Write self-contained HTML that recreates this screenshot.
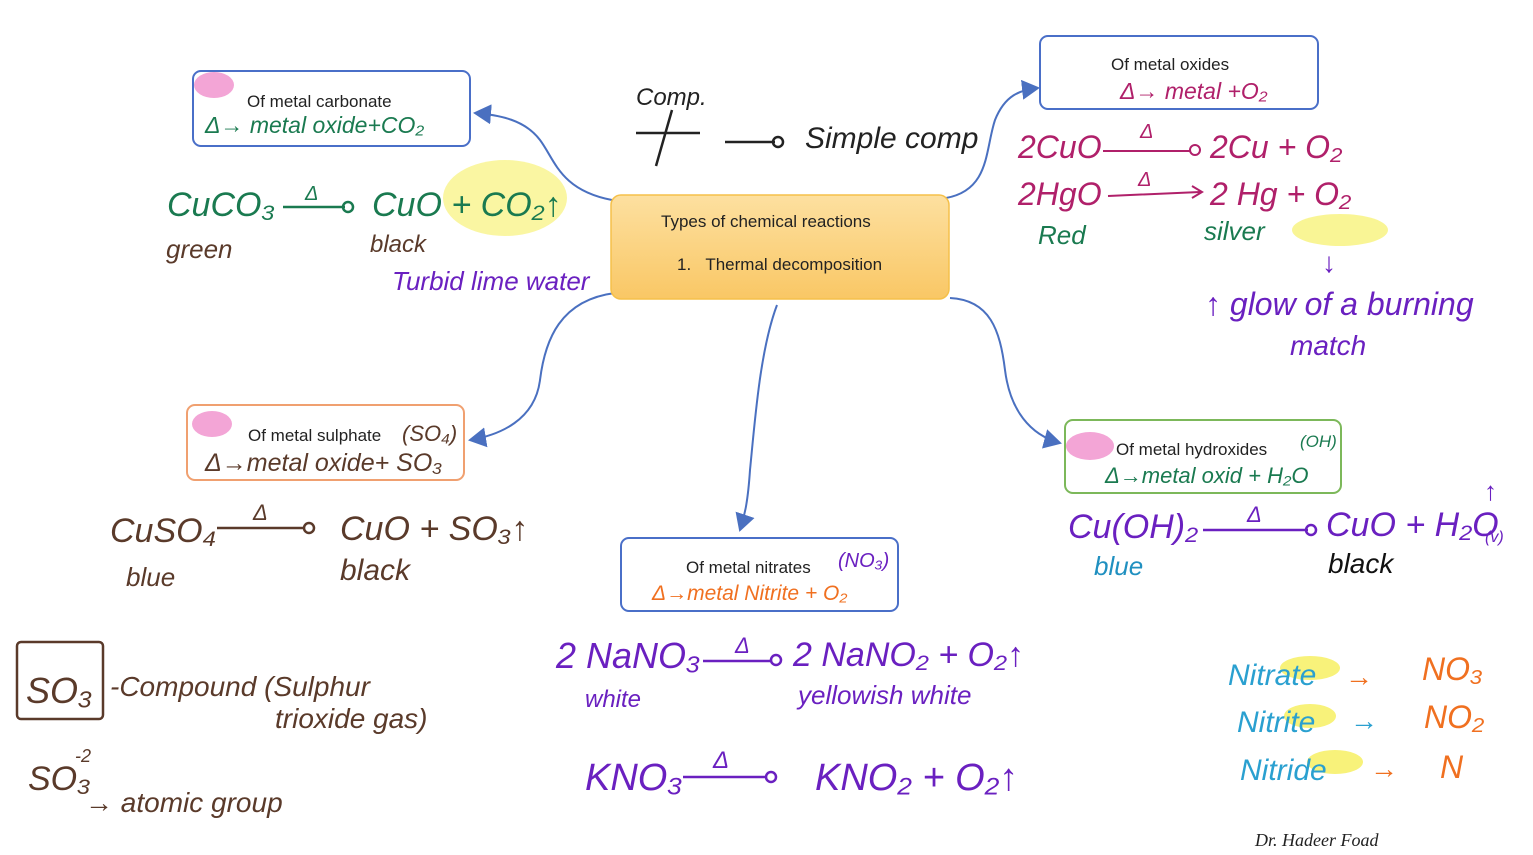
<!DOCTYPE html>
<html><head><meta charset="utf-8"><style>
html,body{margin:0;padding:0;background:#fff;}
svg{display:block}
.h{font-family:"Liberation Sans",sans-serif;font-style:italic;}
.n{font-family:"Liberation Sans",sans-serif;font-size:17px;fill:#222}
</style></head><body>
<svg width="1533" height="855" viewBox="0 0 1533 855" xmlns="http://www.w3.org/2000/svg">
<defs>
<linearGradient id="g" x1="0" y1="0" x2="0" y2="1"><stop offset="0" stop-color="#fde0a0"/><stop offset="1" stop-color="#f9c765"/></linearGradient>
<marker id="a" markerWidth="10" markerHeight="10" refX="8" refY="5" orient="auto"><path d="M0,0 L9,5 L0,10 z" fill="#4a70c0"/></marker>
</defs>
<g fill="none" stroke="#4a70c0" stroke-width="2">
<path d="M612,200 C560,190 555,160 540,140 C525,120 500,115 475,113" marker-end="url(#a)"/>
<path d="M946,198 C990,190 985,150 995,120 C1005,95 1020,90 1038,88" marker-end="url(#a)"/>
<path d="M615,293 C560,300 545,340 540,380 C535,420 500,435 470,440" marker-end="url(#a)"/>
<path d="M950,298 C990,300 1000,330 1005,370 C1010,410 1030,435 1060,443" marker-end="url(#a)"/>
<path d="M777,305 C760,350 755,420 750,470 C748,500 745,515 740,530" marker-end="url(#a)"/>
</g>
<rect x="611" y="195" width="338" height="104" rx="10" fill="url(#g)" stroke="#f5c04a" stroke-width="1.5"/>
<text class="n" x="661" y="227">Types of chemical reactions</text>
<text class="n" x="677" y="270">1.&#160;&#160;&#160;Thermal decomposition</text>

<rect x="193" y="71" width="277" height="75" rx="8" fill="#fff" stroke="#4a6fc8" stroke-width="2"/>
<ellipse cx="214" cy="85" rx="20" ry="13" fill="#f3a5d6"/>
<text class="n" x="247" y="107">Of metal carbonate</text>
<text class="h" x="205" y="133" font-size="23" fill="#1a7a50">&#916;&#8594; metal oxide+CO₂</text>

<rect x="1040" y="36" width="278" height="73" rx="8" fill="#fff" stroke="#4a6fc8" stroke-width="2"/>
<text class="n" x="1111" y="70">Of metal oxides</text>
<text class="h" x="1120" y="99" font-size="23" fill="#b0206a">&#916;&#8594; metal +O₂</text>

<rect x="187" y="405" width="277" height="75" rx="8" fill="#fff" stroke="#f0a070" stroke-width="2"/>
<ellipse cx="212" cy="424" rx="20" ry="13" fill="#f3a5d6"/>
<text class="n" x="248" y="441">Of metal sulphate</text>
<text class="h" x="402" y="441" font-size="22" fill="#5a3a2a">(SO₄)</text>
<text class="h" x="205" y="471" font-size="25" fill="#5a3a2a">&#916;&#8594;metal oxide+ SO₃</text>

<rect x="1065" y="420" width="276" height="73" rx="8" fill="#fff" stroke="#7cb85a" stroke-width="2"/>
<ellipse cx="1090" cy="446" rx="24" ry="14" fill="#f3a5d6"/>
<text class="n" x="1116" y="455">Of metal hydroxides</text>
<text class="h" x="1300" y="447" font-size="17" fill="#1a7a50">(OH)</text>
<text class="h" x="1105" y="483" font-size="22" fill="#1a7a50">&#916;&#8594;metal oxid + H₂O</text>

<rect x="621" y="538" width="277" height="73" rx="8" fill="#fff" stroke="#4a6fc8" stroke-width="2"/>
<text class="n" x="686" y="573">Of metal nitrates</text>
<text class="h" x="838" y="567" font-size="20" fill="#6a20c0">(NO₃)</text>
<text class="h" x="652" y="600" font-size="21" fill="#f07020">&#916;&#8594;metal Nitrite + O₂</text>

<g class="h">
<text x="636" y="105" font-size="24" fill="#222">Comp.</text>
<path d="M636,133 L700,133 M672,110 L656,166" stroke="#222" stroke-width="2.5"/>
<path d="M725,142 L775,142" stroke="#222" stroke-width="2.5"/><circle cx="778" cy="142" r="5" fill="none" stroke="#222" stroke-width="2.5"/>
<text x="805" y="148" font-size="30" fill="#222">Simple comp</text>

<ellipse cx="505" cy="198" rx="62" ry="38" fill="#f8f27a" opacity=".7"/>
<text x="167" y="216" font-size="34" fill="#1a7a50">CuCO₃</text>
<path d="M283,207 L345,207" stroke="#1a7a50" stroke-width="2.5"/><circle cx="348" cy="207" r="5" fill="none" stroke="#1a7a50" stroke-width="2.5"/>
<text x="305" y="200" font-size="20" fill="#1a7a50">&#916;</text>
<text x="372" y="216" font-size="34" fill="#1a7a50">CuO + CO₂&#8593;</text>
<text x="166" y="258" font-size="26" fill="#5a3a2a">green</text>
<text x="370" y="252" font-size="24" fill="#5a3a2a">black</text>
<text x="392" y="290" font-size="26" fill="#6a20c0">Turbid lime water</text>

<text x="1018" y="158" font-size="32" fill="#b0206a">2CuO</text>
<path d="M1103,151 L1190,151" stroke="#b0206a" stroke-width="2"/><circle cx="1195" cy="150" r="5" fill="none" stroke="#b0206a" stroke-width="2"/>
<text x="1140" y="138" font-size="20" fill="#b0206a">&#916;</text>
<text x="1210" y="158" font-size="32" fill="#b0206a">2Cu + O₂</text>
<text x="1018" y="205" font-size="32" fill="#b0206a">2HgO</text>
<path d="M1108,196 L1200,192 M1192,186 L1202,192 L1192,198" stroke="#b0206a" stroke-width="2" fill="none"/>
<text x="1138" y="186" font-size="20" fill="#b0206a">&#916;</text>
<text x="1210" y="205" font-size="32" fill="#b0206a">2 Hg + O₂</text>
<text x="1038" y="244" font-size="26" fill="#1a7a50">Red</text>
<text x="1204" y="240" font-size="26" fill="#1a7a50">silver</text>
<ellipse cx="1340" cy="230" rx="48" ry="16" fill="#f8f27a" opacity=".8"/>
<text x="1322" y="272" font-size="28" fill="#6a20c0">&#8595;</text>
<text x="1205" y="315" font-size="32" fill="#6a20c0">&#8593; glow of a burning</text>
<text x="1290" y="355" font-size="28" fill="#6a20c0">match</text>

<text x="110" y="542" font-size="34" fill="#5a3a2a">CuSO₄</text>
<path d="M217,528 L305,528" stroke="#5a3a2a" stroke-width="2.5"/><circle cx="309" cy="528" r="5" fill="none" stroke="#5a3a2a" stroke-width="2.5"/>
<text x="253" y="520" font-size="22" fill="#5a3a2a">&#916;</text>
<text x="340" y="540" font-size="34" fill="#5a3a2a">CuO + SO₃&#8593;</text>
<text x="126" y="586" font-size="26" fill="#5a3a2a">blue</text>
<text x="340" y="580" font-size="30" fill="#5a3a2a">black</text>

<rect x="17" y="642" width="86" height="77" rx="4" fill="none" stroke="#5a3a2a" stroke-width="2.5"/>
<text x="26" y="703" font-size="36" fill="#5a3a2a">SO₃</text>
<text x="110" y="696" font-size="28" fill="#5a3a2a">-Compound (Sulphur</text>
<text x="275" y="728" font-size="28" fill="#5a3a2a">trioxide gas)</text>
<text x="28" y="790" font-size="34" fill="#5a3a2a">SO₃</text>
<text x="75" y="762" font-size="18" fill="#5a3a2a">-2</text>
<text x="85" y="812" font-size="28" fill="#5a3a2a">&#8594; atomic group</text>

<text x="1068" y="538" font-size="34" fill="#6a20c0">Cu(OH)₂</text>
<path d="M1203,530 L1308,530" stroke="#6a20c0" stroke-width="2.5"/><circle cx="1311" cy="530" r="5" fill="none" stroke="#6a20c0" stroke-width="2.5"/>
<text x="1247" y="522" font-size="22" fill="#6a20c0">&#916;</text>
<text x="1326" y="536" font-size="34" fill="#6a20c0">CuO + H₂O</text>
<text x="1484" y="500" font-size="26" fill="#6a20c0">&#8593;</text>
<text x="1485" y="542" font-size="16" fill="#6a20c0">(v)</text>
<text x="1094" y="575" font-size="26" fill="#2090c0">blue</text>
<text x="1328" y="573" font-size="28" fill="#111">black</text>

<text x="556" y="668" font-size="36" fill="#6a20c0">2 NaNO₃</text>
<path d="M703,661 L772,661" stroke="#6a20c0" stroke-width="2.5"/><circle cx="776" cy="660" r="5" fill="none" stroke="#6a20c0" stroke-width="2.5"/>
<text x="735" y="653" font-size="22" fill="#6a20c0">&#916;</text>
<text x="793" y="666" font-size="34" fill="#6a20c0">2 NaNO₂ + O₂&#8593;</text>
<text x="585" y="707" font-size="24" fill="#6a20c0">white</text>
<text x="798" y="704" font-size="26" fill="#6a20c0">yellowish white</text>
<text x="585" y="790" font-size="38" fill="#6a20c0">KNO₃</text>
<path d="M683,777 L766,777" stroke="#6a20c0" stroke-width="2.5"/><circle cx="771" cy="777" r="5" fill="none" stroke="#6a20c0" stroke-width="2.5"/>
<text x="713" y="768" font-size="24" fill="#6a20c0">&#916;</text>
<text x="815" y="790" font-size="38" fill="#6a20c0">KNO₂ + O₂&#8593;</text>

<ellipse cx="1310" cy="668" rx="30" ry="12" fill="#f8f27a"/>
<ellipse cx="1310" cy="716" rx="26" ry="12" fill="#f8f27a"/>
<ellipse cx="1335" cy="762" rx="28" ry="12" fill="#f8f27a"/>
<text x="1228" y="685" font-size="30" fill="#2aa0d0">Nitrate</text>
<text x="1237" y="732" font-size="30" fill="#2aa0d0">Nitrite</text>
<text x="1240" y="780" font-size="30" fill="#2aa0d0">Nitride</text>
<text x="1345" y="686" font-size="28" fill="#f07020">&#8594;</text>
<text x="1350" y="730" font-size="28" fill="#2aa0d0">&#8594;</text>
<text x="1370" y="778" font-size="28" fill="#f07020">&#8594;</text>
<text x="1422" y="680" font-size="32" fill="#f07020">NO₃</text>
<text x="1424" y="728" font-size="32" fill="#f07020">NO₂</text>
<text x="1440" y="778" font-size="32" fill="#f07020">N</text>
<text x="1255" y="846" font-size="18" fill="#222" font-family="Liberation Serif">Dr. Hadeer Foad</text>
</g>
</svg>
</body></html>
